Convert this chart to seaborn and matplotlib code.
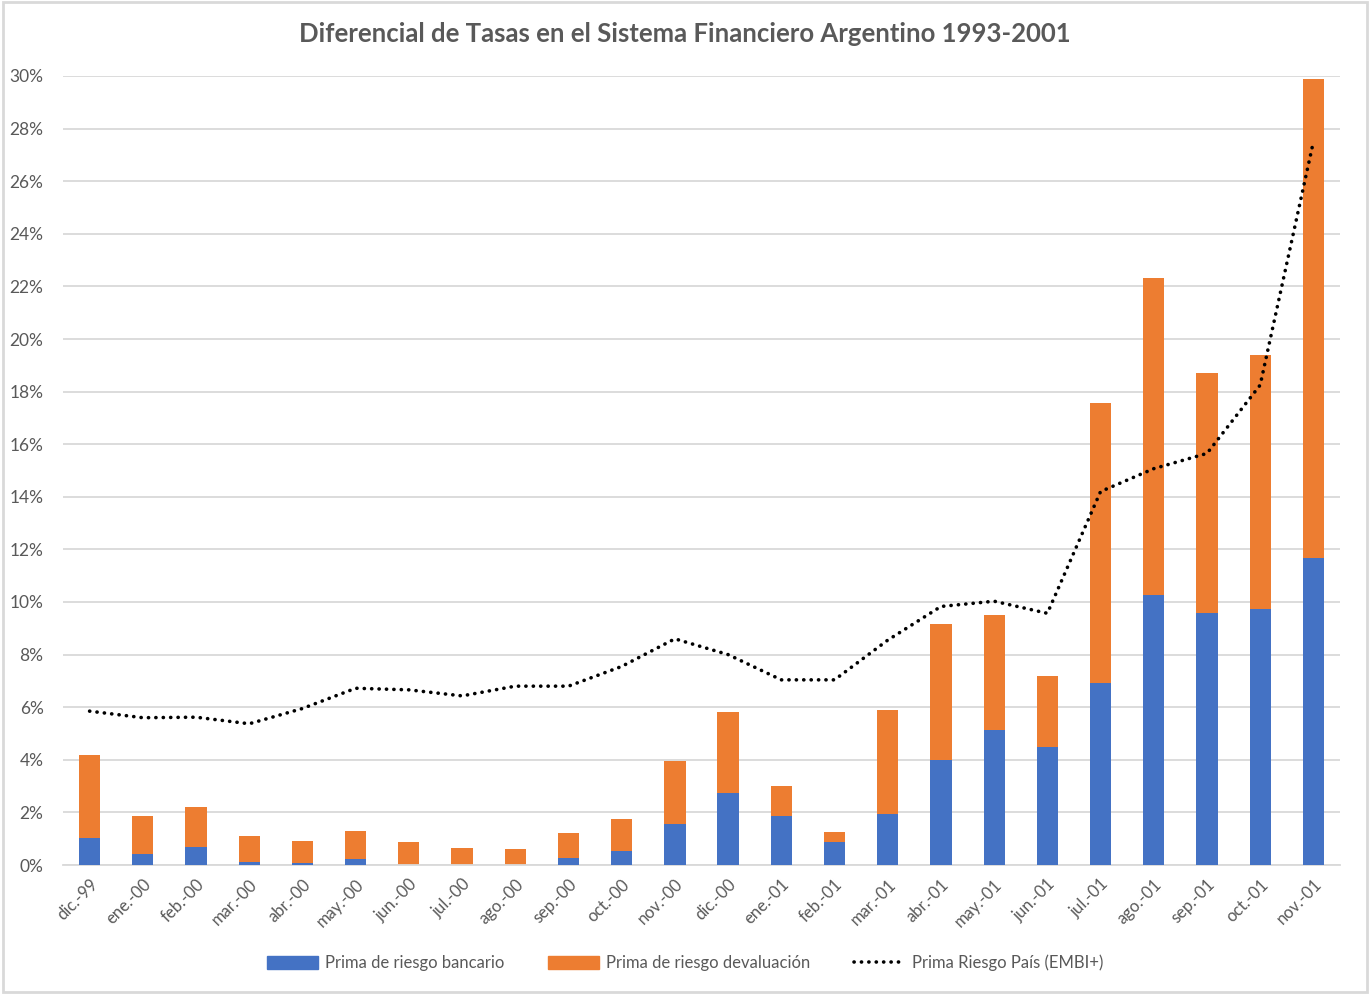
import numpy as np
import pandas as pd
import seaborn as sns
import matplotlib.pyplot as plt
from matplotlib.patches import Patch, Rectangle
from matplotlib.lines import Line2D
from matplotlib.ticker import FuncFormatter, MultipleLocator

# datos (en %)
meses = ['dic.-99', 'ene.-00', 'feb.-00', 'mar.-00', 'abr.-00', 'may.-00', 'jun.-00', 'jul.-00',
         'ago.-00', 'sep.-00', 'oct.-00', 'nov.-00', 'dic.-00', 'ene.-01', 'feb.-01', 'mar.-01',
         'abr.-01', 'may.-01', 'jun.-01', 'jul.-01', 'ago.-01', 'sep.-01', 'oct.-01', 'nov.-01']
prima_bancario = [1.03, 0.42, 0.70, 0.12, 0.08, 0.23, 0.00, 0.00, 0.00, 0.27, 0.54, 1.57,
                  2.75, 1.85, 0.89, 1.95, 4.00, 5.12, 4.50, 6.93, 10.25, 9.57, 9.75, 11.66]
prima_devaluacion = [3.17, 1.45, 1.52, 1.00, 0.84, 1.07, 0.88, 0.65, 0.61, 0.96, 1.22, 2.37,
                     3.05, 1.17, 0.38, 3.95, 5.18, 4.40, 2.70, 10.62, 12.07, 9.13, 9.64, 18.23]
embi = [5.85, 5.60, 5.62, 5.37, 5.95, 6.72, 6.66, 6.43, 6.80, 6.80, 7.55, 8.60,
        8.00, 7.04, 7.04, 8.55, 9.83, 10.03, 9.57, 14.20, 15.07, 15.65, 18.25, 27.50]

df = pd.DataFrame({'mes': meses, 'bancario': prima_bancario, 'devaluacion': prima_devaluacion, 'embi': embi})
df['total'] = df['bancario'] + df['devaluacion']

azul = '#4472C4'
naranja = '#ED7D31'
gris = '#595959'
grilla = '#D9D9D9'

sns.set_theme(style='white')
plt.rcParams['font.family'] = ['Lato', 'DejaVu Sans']

fig = plt.figure(figsize=(13.7, 9.94), dpi=100)
ax = fig.add_axes([63 / 1370, 1 - 865 / 994, (1340 - 63) / 1370, (865 - 76) / 994])

# barras apiladas: primero el total (naranja), encima la parte bancaria (azul)
sns.barplot(data=df, x='mes', y='total', color=naranja, width=0.4, saturation=1,
            linewidth=0, ax=ax, zorder=2)
sns.barplot(data=df, x='mes', y='bancario', color=azul, width=0.4, saturation=1,
            linewidth=0, ax=ax, zorder=3)

pos = np.arange(len(meses))
sns.lineplot(x=pos, y=df['embi'].values, color='black', linewidth=2.6, ax=ax, zorder=4,
             linestyle=(0, (0.05, 2.0)), dash_capstyle='round')

ax.set_xlim(-0.5, len(meses) - 0.5)
ax.set_ylim(0, 30)
ax.yaxis.set_major_locator(MultipleLocator(2))
ax.yaxis.set_major_formatter(FuncFormatter(lambda v, p: f'{v:.0f}%'))
ax.grid(axis='y', color=grilla, linewidth=1.3, zorder=0)
ax.set_axisbelow(True)
ax.set_xlabel('')
ax.set_ylabel('')

for s in ['top', 'right', 'left']:
    ax.spines[s].set_visible(False)
ax.spines['bottom'].set_color(grilla)
ax.spines['bottom'].set_linewidth(1.3)

ax.set_xticks(pos)
ax.set_xticklabels(meses, rotation=45, ha='right', rotation_mode='anchor')
ax.set_xticks(np.arange(-0.5, len(meses)), minor=True)
ax.tick_params(axis='x', which='major', length=0, pad=8, labelsize=12, labelcolor=gris)
ax.tick_params(axis='x', which='minor', length=6, width=1.3, color=grilla, direction='out')
ax.tick_params(axis='y', length=0, pad=14, labelsize=12.5, labelcolor=gris)

fig.suptitle('Diferencial de Tasas en el Sistema Financiero Argentino 1993-2001',
             x=0.5, y=1 - 34 / 994, va='center', fontsize=18.5, fontweight='bold', color=gris)

handles = [Patch(color=azul, label='Prima de riesgo bancario'),
           Patch(color=naranja, label='Prima de riesgo devaluación'),
           Line2D([0], [0], color='black', linewidth=2.6, linestyle=(0, (0.05, 2.0)),
                  dash_capstyle='round', label='Prima Riesgo País (EMBI+)')]
fig.legend(handles=handles, loc='center', bbox_to_anchor=(0.5, 1 - 963 / 994), ncol=3,
           frameon=False, fontsize=12, labelcolor=gris, handlelength=3.1, handleheight=0.8,
           handletextpad=0.4, columnspacing=2.6)

# borde del grafico
fig.patches.append(Rectangle((0.002, 0.002), 0.996, 0.996, transform=fig.transFigure,
                             fill=False, edgecolor=grilla, linewidth=2))

plt.savefig('out.png', dpi=100)
